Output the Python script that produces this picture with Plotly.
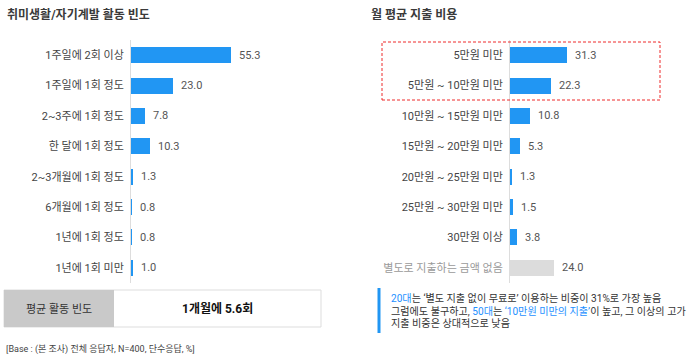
import plotly.graph_objects as go

W, H = 700, 362

freq_labels = ["1주일에 2회 이상", "1주일에 1회 정도", "2~3주에 1회 정도", "한 달에 1회 정도",
               "2~3개월에 1회 정도", "6개월에 1회 정도", "1년에 1회 정도", "1년에 1회 미만"]
freq_values = [55.3, 23.0, 7.8, 10.3, 1.3, 0.8, 0.8, 1.0]

cost_labels = ["5만원 미만", "5만원 ~ 10만원 미만", "10만원 ~ 15만원 미만", "15만원 ~ 20만원 미만",
               "20만원 ~ 25만원 미만", "25만원 ~ 30만원 미만", "30만원 이상", "별도로 지출하는 금액 없음"]
cost_values = [31.3, 22.3, 10.8, 5.3, 1.3, 1.5, 3.8, 24.0]

title_left = "취미생활/자기계발 활동 빈도"
title_right = "월 평균 지출 비용"
avg_label = "평균 활동 빈도"
avg_value = "1개월에 5.6회"
base_note = "[Base : (본 조사) 전체 응답자, N=400, 단수응답, %]"

FONT = "Roboto, 'Noto Sans CJK KR', sans-serif"
BLUE = "#2196F3"
GRAY_BAR = "#dcdcdc"

def px(x):
    return x / W

def py(y):
    return 1 - y / H

fig = go.Figure()

fig.add_trace(go.Bar(
    y=freq_labels, x=freq_values, orientation="h",
    marker=dict(color=BLUE, line=dict(width=0)),
    width=0.53, xaxis="x", yaxis="y", hoverinfo="skip"))

cost_colors = [BLUE] * (len(cost_values) - 1) + [GRAY_BAR]
fig.add_trace(go.Bar(
    y=cost_labels, x=cost_values, orientation="h",
    marker=dict(color=cost_colors, line=dict(width=0)),
    width=0.53, xaxis="x2", yaxis="y2", hoverinfo="skip"))

annotations = []
for lab, v in zip(freq_labels, freq_values):
    annotations.append(dict(x=v, y=lab, xref="x", yref="y", text=f"{v:.1f}",
                            showarrow=False, xanchor="left", xshift=6,
                            font=dict(size=11, color="#555", family=FONT)))
for lab, v in zip(cost_labels, cost_values):
    annotations.append(dict(x=v, y=lab, xref="x2", yref="y2", text=f"{v:.1f}",
                            showarrow=False, xanchor="left", xshift=6,
                            font=dict(size=11, color="#555", family=FONT)))

cost_ticktext = cost_labels[:-1] + [f"<span style='color:#9a9a9a'>{cost_labels[-1]}</span>"]

y_top, y_bot = 40, 283
common_y = dict(autorange="reversed", showgrid=False, zeroline=False, ticks="",
                showline=True, linecolor="#dddddd", linewidth=1,
                tickfont=dict(size=11, color="#444", family=FONT),
                domain=[py(y_bot), py(y_top)], fixedrange=True)

fig.update_layout(
    width=W, height=H, margin=dict(l=0, r=0, t=0, b=0),
    paper_bgcolor="white", plot_bgcolor="white", showlegend=False,
    font=dict(family=FONT),
    bargap=0,
    xaxis=dict(domain=[px(131), px(331)], range=[0, 200 / 1.81], visible=False, anchor="y", fixedrange=True),
    yaxis=dict(**common_y, anchor="x", ticklabelstandoff=4),
    xaxis2=dict(domain=[px(510), px(699)], range=[0, 189 / 1.82], visible=False, anchor="y2", fixedrange=True),
    yaxis2=dict(**common_y, anchor="x2", ticklabelstandoff=4,
                tickmode="array", tickvals=cost_labels, ticktext=cost_ticktext),
)

# titles
annotations.append(dict(x=px(5), y=py(15), xref="paper", yref="paper", text=f"<b>{title_left}</b>",
                        showarrow=False, xanchor="left", yanchor="middle",
                        font=dict(size=12, color="#3a3a3a", family=FONT)))
annotations.append(dict(x=px(369), y=py(15), xref="paper", yref="paper", text=f"<b>{title_right}</b>",
                        showarrow=False, xanchor="left", yanchor="middle",
                        font=dict(size=12, color="#3a3a3a", family=FONT)))

# average box
shapes = [
    dict(type="rect", xref="paper", yref="paper", x0=px(4), x1=px(321), y0=py(327), y1=py(290),
         line=dict(color="#dddddd", width=1), fillcolor="white"),
    dict(type="rect", xref="paper", yref="paper", x0=px(4), x1=px(114), y0=py(327), y1=py(290),
         line=dict(width=0), fillcolor="#c9c9c9"),
    # red dashed highlight
    dict(type="rect", xref="paper", yref="paper", x0=px(382), x1=px(660), y0=py(100), y1=py(42),
         line=dict(color="#ee2a2a", width=1, dash="3px,2px"), fillcolor="rgba(0,0,0,0)"),
    # callout bar
    dict(type="line", xref="paper", yref="paper", x0=px(379), x1=px(379), y0=py(333), y1=py(288),
         line=dict(color=BLUE, width=3)),
]
annotations.append(dict(x=px(59), y=py(308.5), xref="paper", yref="paper", text=avg_label,
                        showarrow=False, xanchor="center", yanchor="middle",
                        font=dict(size=11, color="#333", family=FONT)))
annotations.append(dict(x=px(217), y=py(308.5), xref="paper", yref="paper", text=f"<b>{avg_value}</b>",
                        showarrow=False, xanchor="center", yanchor="middle",
                        font=dict(size=12, color="#111", family=FONT)))
annotations.append(dict(x=px(4), y=py(349), xref="paper", yref="paper", text=base_note,
                        showarrow=False, xanchor="left", yanchor="middle",
                        font=dict(size=9, color="#444", family=FONT)))

callout_lines = [
    "<span style='color:#1e90ff'>20대</span>는 ‘별도 지출 없이 무료로’ 이용하는 비중이 31%로 가장 높음",
    "그럼에도 불구하고, <span style='color:#1e90ff'>50대</span>는 <span style='color:#1e90ff'>‘10만원 미만의 지출’</span>이 높고, 그 이상의 고가",
    "지출 비중은 상대적으로 낮음",
]
for i, t in enumerate(callout_lines):
    annotations.append(dict(x=px(389), y=py(298 + i * 12.7), xref="paper", yref="paper", text=t,
                            showarrow=False, xanchor="left", yanchor="middle",
                            font=dict(size=10.1, color="#333", family=FONT)))

fig.update_layout(annotations=annotations, shapes=shapes)
fig.write_html("out.html", config={"displayModeBar": False, "staticPlot": True},
               post_script="document.body.style.margin='0';")
